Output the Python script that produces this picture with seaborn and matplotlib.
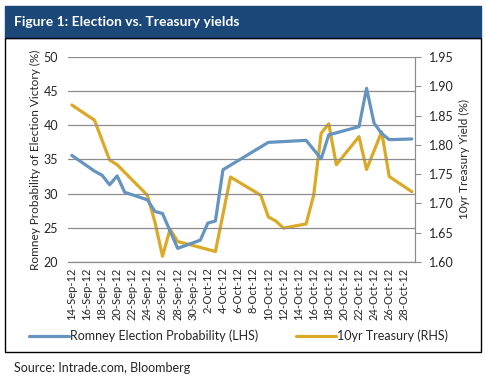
import numpy as np
import pandas as pd
import matplotlib
matplotlib.use("Agg")
import matplotlib.pyplot as plt
from matplotlib.patches import Rectangle
import seaborn as sns

sns.set_style("white")
plt.rcParams['font.family'] = ['Lato', 'DejaVu Sans']

# Romney probability (LHS, %)
romney_dates = ['2012-09-14', '2012-09-17', '2012-09-18', '2012-09-19', '2012-09-20',
                '2012-09-21', '2012-09-24', '2012-09-25', '2012-09-26', '2012-09-28',
                '2012-10-01', '2012-10-02', '2012-10-03', '2012-10-04', '2012-10-10',
                '2012-10-15', '2012-10-17', '2012-10-18', '2012-10-19', '2012-10-22',
                '2012-10-23', '2012-10-24', '2012-10-25', '2012-10-26', '2012-10-29']
romney_vals = [35.6, 33.3, 32.7, 31.3, 32.6,
               30.2, 29.1, 27.4, 27.1, 22.0,
               23.2, 25.7, 26.0, 33.5, 37.5,
               37.8, 35.1, 38.6, 38.9, 39.8,
               45.4, 40.3, 38.8, 37.9, 38.0]

# 10yr treasury yield (RHS, %)
tsy_dates = ['2012-09-14', '2012-09-17', '2012-09-19', '2012-09-20', '2012-09-24',
             '2012-09-25', '2012-09-26', '2012-09-27', '2012-09-28', '2012-10-01',
             '2012-10-03', '2012-10-05', '2012-10-09', '2012-10-10', '2012-10-11',
             '2012-10-12', '2012-10-15', '2012-10-16', '2012-10-17', '2012-10-18',
             '2012-10-19', '2012-10-22', '2012-10-23', '2012-10-25', '2012-10-26',
             '2012-10-29']
tsy_vals = [1.868, 1.842, 1.774, 1.766, 1.714,
            1.668, 1.610, 1.656, 1.635, 1.625,
            1.618, 1.745, 1.714, 1.677, 1.670,
            1.658, 1.665, 1.714, 1.820, 1.836,
            1.766, 1.814, 1.758, 1.822, 1.746,
            1.720]

tick_dates = ['2012-09-14', '2012-09-16', '2012-09-18', '2012-09-20', '2012-09-22',
              '2012-09-24', '2012-09-26', '2012-09-28', '2012-09-30', '2012-10-02',
              '2012-10-04', '2012-10-06', '2012-10-08', '2012-10-10', '2012-10-12',
              '2012-10-14', '2012-10-16', '2012-10-18', '2012-10-20', '2012-10-22',
              '2012-10-24', '2012-10-26', '2012-10-28']
tick_labels = ['14-Sep-12', '16-Sep-12', '18-Sep-12', '20-Sep-12', '22-Sep-12',
               '24-Sep-12', '26-Sep-12', '28-Sep-12', '30-Sep-12', '2-Oct-12',
               '4-Oct-12', '6-Oct-12', '8-Oct-12', '10-Oct-12', '12-Oct-12',
               '14-Oct-12', '16-Oct-12', '18-Oct-12', '20-Oct-12', '22-Oct-12',
               '24-Oct-12', '26-Oct-12', '28-Oct-12']

BLUE = '#6594c0'
GOLD = '#dba928'
GRID = '#8c8c8c'

df_r = pd.DataFrame({'date': pd.to_datetime(romney_dates), 'val': romney_vals})
df_t = pd.DataFrame({'date': pd.to_datetime(tsy_dates), 'val': tsy_vals})

fig = plt.figure(figsize=(4.86, 3.82), dpi=100)
ax = fig.add_axes([0.14, 0.314, 0.714, 0.537])
ax2 = ax.twinx()

sns.lineplot(data=df_r, x='date', y='val', ax=ax, color=BLUE, lw=2.3,
             label='Romney Election Probability (LHS)', legend=False)
sns.lineplot(data=df_t, x='date', y='val', ax=ax2, color=GOLD, lw=2.3,
             label='10yr Treasury (RHS)', legend=False)
ax.set_zorder(ax2.get_zorder() + 1)
ax.patch.set_visible(False)

tdates = pd.to_datetime(tick_dates)
x0 = pd.Timestamp('2012-09-14') - pd.Timedelta(hours=12)
x1 = pd.Timestamp('2012-10-29') + pd.Timedelta(hours=10)
ax.set_xlim(x0, x1)

ax.set_ylim(20, 50)
ax.set_yticks(np.arange(20, 51, 5))
ax2.set_ylim(1.60, 1.95)
ax2.set_yticks(np.arange(1.60, 1.951, 0.05))
ax2.set_yticklabels([f'{v:.2f}' for v in np.arange(1.60, 1.951, 0.05)])

ax.set_xticks(tdates)
ax.set_xticklabels(tick_labels, rotation=90, fontsize=8)
ax.set_xticks(tdates - pd.Timedelta(hours=12), minor=True)
ax.tick_params(axis='x', which='major', length=0, pad=4)
ax.tick_params(axis='x', which='minor', length=4, color=GRID, direction='out')
ax.tick_params(axis='y', length=0, labelsize=9, pad=7)
ax2.tick_params(axis='y', length=4, color=GRID, direction='out', labelsize=9, pad=6)

ax.yaxis.grid(True, color=GRID, lw=0.9)
ax.xaxis.grid(False)
ax.set_xlabel('')
ax.set_ylabel('Romney Probability of Election Victory (%)', fontsize=8.5, labelpad=2)
ax2.set_ylabel('10yr Treasury Yield (%)', fontsize=8.5, labelpad=4)

for a in (ax, ax2):
    for s in ['top', 'left']:
        a.spines[s].set_visible(False)
    a.spines['right'].set_color(GRID)
    a.spines['bottom'].set_color(GRID)

h1, l1 = ax.get_legend_handles_labels()
h2, l2 = ax2.get_legend_handles_labels()
fig.legend(h1 + h2, l1 + l2, loc='center', bbox_to_anchor=(0.49, 0.12), ncol=2,
           frameon=False, fontsize=9, handlelength=3.2, handletextpad=0.1,
           columnspacing=3.0)

# title bar and frame
fig.patches.append(Rectangle((0.0103, 0.9005), 0.979, 0.0835, transform=fig.transFigure,
                             facecolor='#1b4878', edgecolor='#1b4878', zorder=0))
fig.patches.append(Rectangle((0.0103, 0.0785), 0.979, 0.822, transform=fig.transFigure,
                             facecolor='none', edgecolor='black', lw=1, zorder=0))
fig.text(0.029, 0.942, 'Figure 1: Election vs. Treasury yields', color='white',
         fontsize=10, fontweight='bold', va='center', ha='left')
fig.text(0.029, 0.037, 'Source: Intrade.com, Bloomberg', fontsize=9, va='center', ha='left')

fig.savefig('out.png', dpi=100)
